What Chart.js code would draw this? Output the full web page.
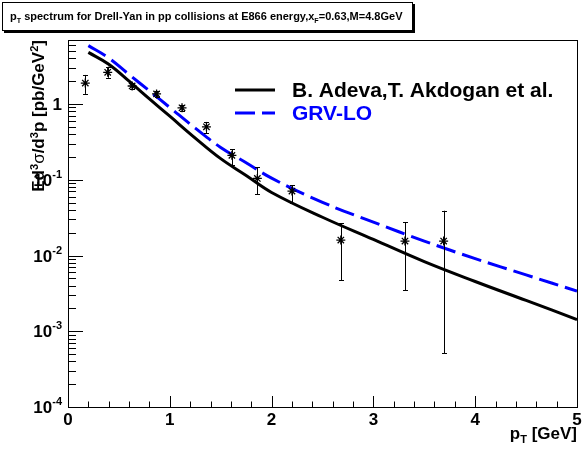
<!DOCTYPE html>
<html>
<head>
<meta charset="utf-8">
<title>pT spectrum for Drell-Yan</title>
<script src="https://cdn.jsdelivr.net/npm/chart.js@4.4.1/dist/chart.umd.min.js"></script>
<style>
  html, body { margin: 0; padding: 0; background: #fff; }
  #wrap { position: relative; width: 583px; height: 450px; font-family: "Liberation Sans", Arial, sans-serif; font-weight: bold; }
  #spectrum { position: absolute; left: 0; top: 0; }
  #title-box {
    position: absolute; left: 2px; top: 2px; height: 27px; padding: 0 10px 0 7px;
    border: 1px solid #000; box-shadow: 2px 2px 0 #000; background: #fff;
    font-size: 11px; line-height: 27px; white-space: nowrap;
  }
  #title-box sub, #x-title sub { font-size: 65%; vertical-align: -0.35em; }
  #x-title { position: absolute; right: 6px; top: 424px; font-size: 17px; white-space: nowrap; }
  #y-title {
    position: absolute; left: 22px; top: 290px; width: 250px; height: 24px; line-height: 24px;
    font-size: 17px; text-align: right; white-space: nowrap;
    transform-origin: top left; transform: rotate(-90deg);
  }
  #y-title sup { font-size: 65%; vertical-align: 0.5em; }
  #y-title .greek { font-weight: normal; }
</style>
</head>
<body>
<div id="wrap">
  <canvas id="spectrum" width="583" height="450"></canvas>
  <div id="title-box">p<sub>T</sub> spectrum for Drell-Yan in pp collisions at E866 energy,x<sub>F</sub>=0.63,M=4.8GeV</div>
  <div id="y-title">Ed<sup>3</sup><span class="greek">σ</span>/d<sup>3</sup>p [pb/GeV<sup>2</sup>]</div>
  <div id="x-title">p<sub>T</sub> [GeV]</div>
</div>
<script>
// --- E866 data points ---
const ptData = [0.17, 0.39, 0.63, 0.87, 1.12, 1.36, 1.61, 1.86, 2.20, 2.68, 3.31, 3.69];
const sigmaData = [1.89, 2.62, 1.73, 1.36, 0.89, 0.50, 0.21, 0.104, 0.071, 0.016, 0.0155, 0.0155];
const sigmaLow = [1.36, 2.22, 1.58, 1.24, 0.81, 0.41, 0.156, 0.064, 0.049, 0.0047, 0.0035, 0.00051];
const sigmaHigh = [2.42, 3.11, 1.90, 1.49, 0.97, 0.58, 0.252, 0.146, 0.085, 0.0266, 0.0274, 0.039];

// --- Theory curves ---
const curvePt = [0.2, 0.4, 0.6, 0.8, 1.0, 1.25, 1.5, 1.75, 2.0, 2.5, 3.0, 3.5, 4.0, 4.5, 5.0];
const adevaCurve = [4.8, 3.35, 2.0, 1.17, 0.69, 0.355, 0.19, 0.114, 0.068, 0.032, 0.0163, 0.0083, 0.00454, 0.00255, 0.00143];
const grvCurve = [5.9, 4.05, 2.45, 1.49, 0.9, 0.48, 0.267, 0.168, 0.105, 0.0503, 0.0276, 0.0155, 0.0091, 0.00555, 0.00339];

// --- Axis ticks ---
const xTicks = [0, 1, 2, 3, 4, 5];
const yDecades = [-4, -3, -2, -1, 0];
const legendLabels = ['B. Adeva,T. Akdogan et al.', 'GRV-LO'];

const X_MIN = 0, X_MAX = 5, Y_MIN = 1e-4, Y_MAX = 7;
const FONT = '"Liberation Sans", Arial, sans-serif';

function toPoints(xs, ys) {
    return xs.map((x, i) => ({ x: x, y: ys[i] }));
}

// --- Error bars ---
const errorBars = {
    id: 'errorBars',
    afterDatasetsDraw(chart) {
        const ctx = chart.ctx;
        const xs = chart.scales.x, ys = chart.scales.y;
        ctx.save();
        ctx.strokeStyle = '#000';
        ctx.lineWidth = 1;
        ptData.forEach((pt, i) => {
            const px = Math.round(xs.getPixelForValue(pt)) + 0.5;
            const top = ys.getPixelForValue(sigmaHigh[i]);
            const bot = ys.getPixelForValue(sigmaLow[i]);
            ctx.beginPath();
            ctx.moveTo(px, top); ctx.lineTo(px, bot);
            ctx.moveTo(px - 2.5, Math.round(top) + 0.5); ctx.lineTo(px + 2.5, Math.round(top) + 0.5);
            ctx.moveTo(px - 2.5, Math.round(bot) + 0.5); ctx.lineTo(px + 2.5, Math.round(bot) + 0.5);
            ctx.stroke();
        });
        ctx.restore();
    }
};

// --- ROOT style frame, inward ticks, tick labels and legend ---
const rootFrame = {
    id: 'rootFrame',
    afterDraw(chart) {
        const ctx = chart.ctx;
        const a = chart.chartArea;
        const xs = chart.scales.x, ys = chart.scales.y;
        ctx.save();
        ctx.strokeStyle = '#000';
        ctx.lineWidth = 1;
        ctx.strokeRect(Math.round(a.left) + 0.5, Math.round(a.top) + 0.5, Math.round(a.right - a.left), Math.round(a.bottom - a.top));

        // x ticks: major every 1, minor every 0.2
        ctx.beginPath();
        for (let i = 0; i <= 25; i++) {
            const px = Math.round(xs.getPixelForValue(i * 0.2)) + 0.5;
            const len = i % 5 === 0 ? 11 : 5.5;
            ctx.moveTo(px, a.bottom); ctx.lineTo(px, a.bottom - len);
        }
        // y ticks: major at decades, minor at 2..9
        yDecades.forEach(e => {
            for (let m = 1; m <= 9; m++) {
                const v = m * Math.pow(10, e);
                if (v > Y_MAX) break;
                const py = Math.round(ys.getPixelForValue(v)) + 0.5;
                ctx.moveTo(a.left, py); ctx.lineTo(a.left + (m === 1 ? 15 : 8), py);
            }
        });
        ctx.stroke();

        // tick labels
        ctx.fillStyle = '#000';
        ctx.font = 'bold 17px ' + FONT;
        ctx.textAlign = 'center';
        ctx.textBaseline = 'alphabetic';
        xTicks.forEach(v => {
            ctx.fillText(String(v), xs.getPixelForValue(v), a.bottom + 18);
        });
        yDecades.forEach(e => {
            const py = ys.getPixelForValue(Math.pow(10, e));
            const right = a.left - 6;
            ctx.textAlign = 'right';
            if (e === 0) {
                ctx.font = 'bold 17px ' + FONT;
                ctx.fillText('1', right, py + 6);
                return;
            }
            ctx.font = 'bold 11px ' + FONT;
            const expo = String(e);
            const ew = ctx.measureText(expo).width;
            ctx.fillText(expo, right, py - 2);
            ctx.font = 'bold 17px ' + FONT;
            ctx.fillText('10', right - ew, py + 6);
        });

        // legend
        const lx = 235, ly = [90, 113];
        ctx.lineWidth = 3;
        ctx.strokeStyle = '#000';
        ctx.beginPath(); ctx.moveTo(lx, ly[0]); ctx.lineTo(lx + 40, ly[0]); ctx.stroke();
        ctx.strokeStyle = '#0000ff';
        ctx.setLineDash([20, 7]);
        ctx.beginPath(); ctx.moveTo(lx, ly[1]); ctx.lineTo(lx + 40, ly[1]); ctx.stroke();
        ctx.setLineDash([]);
        ctx.font = 'bold 21px ' + FONT;
        ctx.textAlign = 'left';
        ctx.fillStyle = '#000';
        ctx.fillText(legendLabels[0], 292, ly[0] + 7);
        ctx.fillStyle = '#0000ff';
        ctx.fillText(legendLabels[1], 292, ly[1] + 7);
        ctx.restore();
    }
};

const ctx = document.getElementById('spectrum');
new Chart(ctx, {
    type: 'scatter',
    data: {
        datasets: [
            {
                label: 'E866',
                data: toPoints(ptData, sigmaData),
                pointStyle: 'star',
                pointRadius: 4.5,
                borderColor: '#000',
                backgroundColor: '#000',
                borderWidth: 1.3
            },
            {
                type: 'line',
                label: legendLabels[0],
                data: toPoints(curvePt, adevaCurve),
                borderColor: '#000',
                borderWidth: 3,
                pointRadius: 0,
                tension: 0.4,
                fill: false
            },
            {
                type: 'line',
                label: legendLabels[1],
                data: toPoints(curvePt, grvCurve),
                borderColor: '#0000ff',
                borderWidth: 3,
                borderDash: [20, 7],
                pointRadius: 0,
                tension: 0.4,
                fill: false
            }
        ]
    },
    options: {
        responsive: false,
        animation: false,
        layout: { padding: { left: 68, top: 40, right: 6, bottom: 43 } },
        scales: {
            x: { type: 'linear', min: X_MIN, max: X_MAX, display: false },
            y: { type: 'logarithmic', min: Y_MIN, max: Y_MAX, display: false }
        },
        plugins: {
            legend: { display: false },
            tooltip: { enabled: false }
        }
    },
    plugins: [errorBars, rootFrame]
});
</script>
</body>
</html>
